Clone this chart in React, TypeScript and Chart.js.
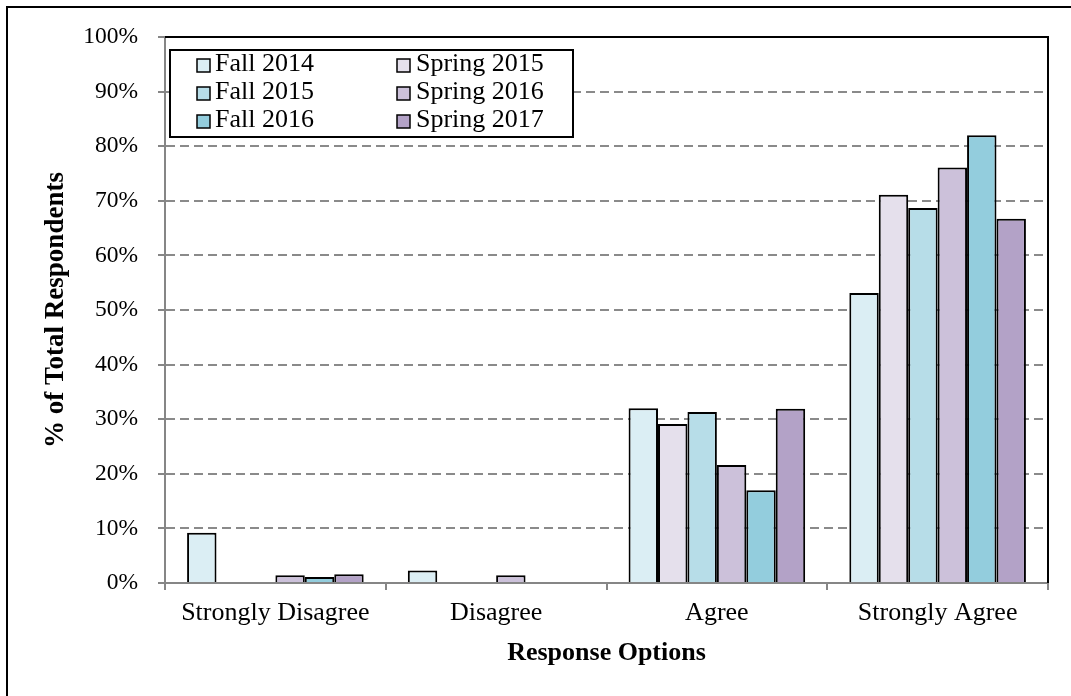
import React, { useEffect, useRef } from "react";
import { Chart, registerables } from "chart.js";

Chart.register(...registerables);

const categories = ["Strongly Disagree", "Disagree", "Agree", "Strongly Agree"];
const seriesLabels = ["Fall 2014", "Spring 2015", "Fall 2015", "Spring 2016", "Fall 2016", "Spring 2017"];
const fall2014 = [9.2, 2.3, 32.0, 53.1];
const spring2015 = [0, 0, 29.1, 71.1];
const fall2015 = [0, 0, 31.3, 68.7];
const spring2016 = [1.4, 1.4, 21.6, 76.1];
const fall2016 = [1.1, 0, 17.0, 82.0];
const spring2017 = [1.6, 0, 31.9, 66.7];
const seriesValues = [fall2014, spring2015, fall2015, spring2016, fall2016, spring2017];
const seriesColors = ["#DBEEF4", "#E5E0EC", "#B7DDE8", "#CCC1DA", "#93CDDD", "#B3A2C7"];
const yMin = 0;
const yMax = 100;
const yStep = 10;
const xTitle = "Response Options";
const yTitle = "% of Total Respondents";

const SERIF = "'Liberation Serif', 'Times New Roman', Times, serif";
const AXIS_GRAY = "#868686";

const framePlugin = {
  id: "outerFrame",
  afterDraw(chart: any) {
    const { ctx, width, height } = chart;
    ctx.save();
    ctx.strokeStyle = "#000";
    ctx.lineWidth = 2;
    ctx.beginPath();
    ctx.moveTo(7, height + 5);
    ctx.lineTo(7, 7);
    ctx.lineTo(width + 5, 7);
    ctx.stroke();
    ctx.restore();
  },
};

const plotBorderPlugin = {
  id: "plotBorder",
  afterDatasetsDraw(chart: any) {
    const { ctx, chartArea } = chart;
    ctx.save();
    ctx.strokeStyle = "#000";
    ctx.lineWidth = 2;
    ctx.beginPath();
    ctx.moveTo(chartArea.left, chartArea.top);
    ctx.lineTo(chartArea.right, chartArea.top);
    ctx.lineTo(chartArea.right, chartArea.bottom);
    ctx.stroke();
    ctx.restore();
  },
};

const boxLegendPlugin = {
  id: "boxLegend",
  afterDatasetsDraw(chart: any) {
    const { ctx, chartArea } = chart;
    const x0 = chartArea.left + 5;
    const y0 = chartArea.top + 13;
    const w = 403;
    const h = 87;
    ctx.save();
    ctx.fillStyle = "#fff";
    ctx.fillRect(x0, y0, w, h);
    ctx.strokeStyle = "#000";
    ctx.lineWidth = 2;
    ctx.strokeRect(x0, y0, w, h);
    ctx.font = `26px ${SERIF}`;
    ctx.textBaseline = "middle";
    ctx.textAlign = "left";
    chart.data.datasets.forEach((ds: any, i: number) => {
      const col = i % 2;
      const row = Math.floor(i / 2);
      const sx = x0 + 27 + col * 200;
      const cy = y0 + 14 + row * 28;
      ctx.fillStyle = ds.backgroundColor;
      ctx.fillRect(sx, cy - 5, 13, 13);
      ctx.lineWidth = 1.5;
      ctx.strokeStyle = "#000";
      ctx.strokeRect(sx, cy - 5, 13, 13);
      ctx.fillStyle = "#000";
      ctx.fillText(ds.label, sx + 18 + col, cy);
    });
    ctx.restore();
  },
};

export default function App() {
  const canvasRef = useRef<HTMLCanvasElement | null>(null);

  useEffect(() => {
    if (!canvasRef.current) return;
    const chart = new Chart(canvasRef.current, {
      type: "bar",
      data: {
        labels: categories,
        datasets: seriesLabels.map((label, i) => ({
          label,
          data: seriesValues[i],
          backgroundColor: seriesColors[i],
          borderColor: "#000",
          borderWidth: 2,
          categoryPercentage: 0.8,
          barPercentage: 1.0,
        })),
      },
      options: {
        animation: false,
        responsive: false,
        layout: { padding: { top: 37, right: 23, left: 0, bottom: 0 } },
        plugins: {
          legend: { display: false },
          tooltip: { enabled: false },
        },
        scales: {
          x: {
            afterFit: (scale: any) => {
              scale.height = 113;
            },
            grid: {
              display: true,
              drawOnChartArea: false,
              drawTicks: true,
              tickLength: 7,
              color: AXIS_GRAY,
              lineWidth: 2,
              offset: true,
            },
            border: { color: AXIS_GRAY, width: 2 },
            ticks: {
              color: "#000",
              padding: 8,
              font: { family: SERIF, size: 26 },
              maxRotation: 0,
            },
            title: {
              display: true,
              text: xTitle,
              color: "#000",
              font: { family: SERIF, size: 26, weight: "bold" },
              padding: { top: 0, bottom: 27 },
            },
          },
          y: {
            min: yMin,
            max: yMax,
            afterFit: (scale: any) => {
              scale.width = 165;
            },
            ticks: {
              stepSize: yStep,
              color: "#000",
              padding: 20,
              font: { family: SERIF, size: 23.5 },
              callback: (v: any) => `${v}%`,
            },
            grid: {
              color: (ctx: any) =>
                ctx.tick && (ctx.tick.value === yMin || ctx.tick.value === yMax)
                  ? "rgba(0,0,0,0)"
                  : "#8a8a8a",
              tickColor: AXIS_GRAY,
              tickLength: 7,
              lineWidth: 2,
              tickWidth: 2,
            },
            border: { color: AXIS_GRAY, width: 2, dash: [9, 5] },
            title: {
              display: true,
              text: yTitle,
              color: "#000",
              font: { family: SERIF, size: 27, weight: "bold" },
              padding: { top: 40, bottom: 0 },
            },
          },
        },
      },
      plugins: [framePlugin, plotBorderPlugin, boxLegendPlugin],
    } as any);
    return () => chart.destroy();
  }, []);

  return (
    <div style={{ position: "absolute", left: 0, top: 0, width: 1071, height: 696, background: "#fff" }}>
      <canvas ref={canvasRef} width={1071} height={696} style={{ display: "block" }} />
    </div>
  );
}
